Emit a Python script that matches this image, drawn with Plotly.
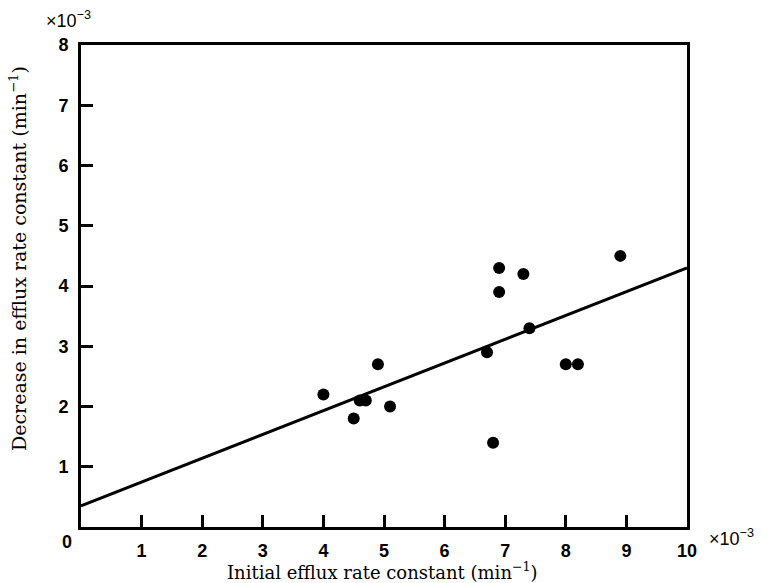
import plotly.graph_objects as go

# Data (units of 1e-3 min^-1)
initial_rate = [4.0, 4.5, 4.6, 4.7, 4.9, 5.1, 6.7, 6.8, 6.9, 6.9, 7.3, 7.4, 8.0, 8.2, 8.9]
decrease_rate = [2.2, 1.8, 2.1, 2.1, 2.7, 2.0, 2.9, 1.4, 4.3, 3.9, 4.2, 3.3, 2.7, 2.7, 4.5]
fit_x = [0, 10]
fit_y = [0.35, 4.3]
x_ticks = [1, 2, 3, 4, 5, 6, 7, 8, 9, 10]
y_ticks = [1, 2, 3, 4, 5, 6, 7, 8]

tickfont = dict(family="Liberation Sans", size=18, color="black", weight="bold")
xtitlefont = dict(family="DejaVu Serif", size=18, color="black")
ytitlefont = dict(family="DejaVu Serif", size=19, color="black")
expfont = dict(family="Liberation Sans", size=18, color="black")

fig = go.Figure()
fig.add_trace(go.Scatter(x=fit_x, y=fit_y, mode="lines",
                         line=dict(color="black", width=3), showlegend=False))
fig.add_trace(go.Scatter(x=initial_rate, y=decrease_rate, mode="markers",
                         marker=dict(color="black", size=12), showlegend=False))

common = dict(showgrid=False, zeroline=False, showline=True, linecolor="black",
              linewidth=3, mirror=True, ticks="inside", ticklen=12, tickwidth=3,
              tickcolor="black", tickfont=tickfont, automargin=False)

fig.update_layout(
    width=763, height=583,
    margin=dict(l=81, r=76, t=45, b=56),
    paper_bgcolor="white", plot_bgcolor="white",
    xaxis=dict(range=[0, 10], tickvals=x_ticks, ticktext=[str(v) for v in x_ticks],
               ticklabelstandoff=5, **common),
    yaxis=dict(range=[0, 8], tickvals=y_ticks, ticktext=[str(v) for v in y_ticks],
               ticklabelstandoff=6, **common),
)

# axis titles
fig.add_annotation(x=0.498, y=-0.091, xref="paper", yref="paper",
                   text="Initial efflux rate constant (min<sup>−1</sup>)",
                   showarrow=False, xanchor="center", yanchor="middle", font=xtitlefont)
fig.add_annotation(x=-0.104, y=0.558, xref="paper", yref="paper",
                   text="Decrease in efflux rate constant (min<sup>−1</sup>)",
                   showarrow=False, xanchor="center", yanchor="middle", textangle=-90,
                   font=ytitlefont)
# corner zero
fig.add_annotation(x=-0.023, y=-0.031, xref="paper", yref="paper", text="0",
                   showarrow=False, xanchor="center", yanchor="middle", font=tickfont)
# scale multipliers
fig.add_annotation(x=-0.021, y=1.052, xref="paper", yref="paper",
                   text="×10<sup>−3</sup>", showarrow=False,
                   xanchor="center", yanchor="middle", font=expfont)
fig.add_annotation(x=1.033, y=-0.022, xref="paper", yref="paper",
                   text="×10<sup>−3</sup>", showarrow=False,
                   xanchor="left", yanchor="middle", font=expfont)

fig.write_html("out.html", config={"displayModeBar": False},
               post_script="document.body.style.margin='0';")
